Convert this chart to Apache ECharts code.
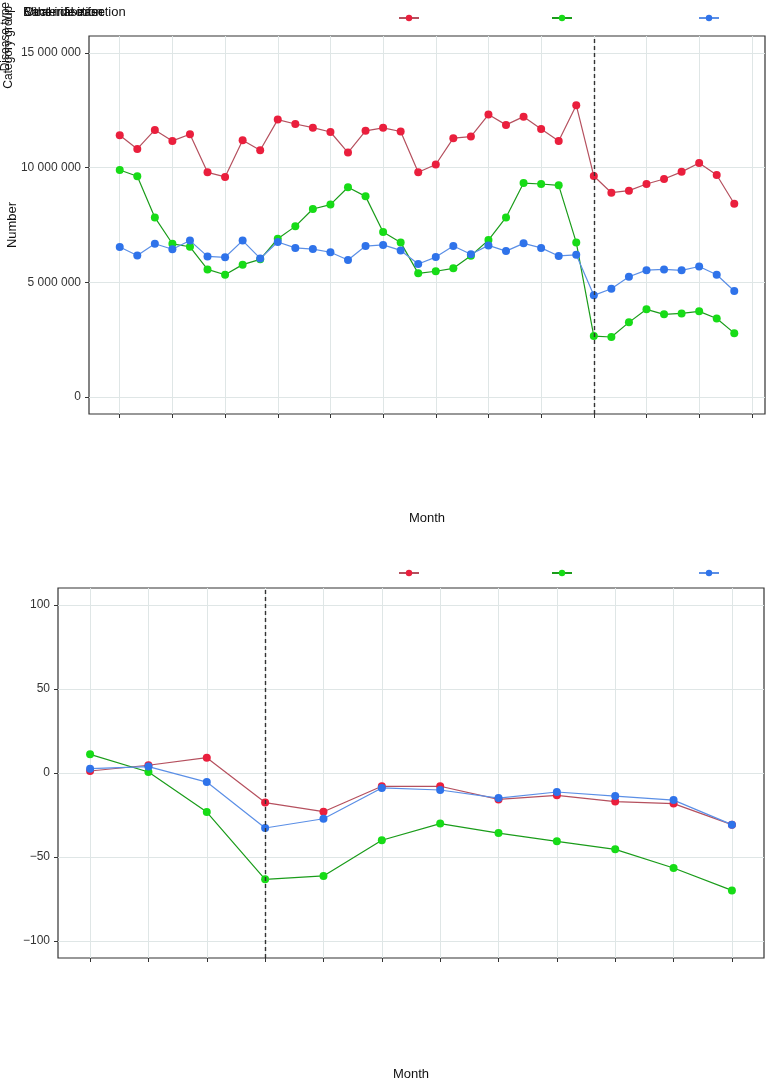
<!DOCTYPE html>
<html>
<head>
<meta charset="utf-8">
<script src="https://cdn.jsdelivr.net/npm/echarts@6/dist/echarts.min.js"></script>
<style>
html,body{margin:0;padding:0;background:#fff;}
#chart{width:770px;height:1079px;}
</style>
</head>
<body>
<div id="chart"></div>
<script>
// ---------- data ----------
const seriesNames = ['Bacterial infection', 'Viral infection', 'Other disease'];
const topMonths = [0,1,2,3,4,5,6,7,8,9,10,11,12,13,14,15,16,17,18,19,20,21,22,23,24,25,26,27,28,29,30,31,32,33,34,35];
const topRed = [11420000,10820000,11650000,11170000,11460000,9800000,9600000,11200000,10760000,12100000,11910000,11750000,11560000,10660000,11610000,11740000,11580000,9800000,10140000,11290000,11360000,12320000,11870000,12230000,11690000,11170000,12730000,9640000,8910000,9000000,9290000,9510000,9820000,10210000,9680000,8430000];
const topGreen = [9900000,9630000,7830000,6680000,6550000,5560000,5330000,5770000,6000000,6900000,7440000,8200000,8390000,9150000,8750000,7190000,6740000,5390000,5480000,5610000,6160000,6840000,7830000,9330000,9290000,9230000,6740000,2650000,2610000,3250000,3820000,3600000,3640000,3730000,3420000,2780000];
const topBlue = [6540000,6170000,6680000,6440000,6820000,6130000,6090000,6820000,6040000,6760000,6500000,6450000,6310000,5970000,6580000,6630000,6390000,5800000,6100000,6580000,6220000,6610000,6360000,6700000,6500000,6150000,6200000,4430000,4720000,5240000,5530000,5560000,5520000,5690000,5330000,4620000];
const topTicks = [0,3,6,9,12,15,18,21,24,27,30,33,36];
const topYTicks = [0,5000000,10000000,15000000];
const topBreak = 27;

const botMonths = [0,1,2,3,4,5,6,7,8,9,10,11];
const botRed = [1.2,4.6,9.1,-17.6,-23.0,-7.9,-7.9,-15.7,-13.3,-17.0,-18.2,-30.7];
const botGreen = [11.1,0.6,-23.2,-63.2,-61.2,-40.0,-30.1,-35.7,-40.6,-45.4,-56.5,-69.8];
const botBlue = [2.6,3.8,-5.4,-32.7,-27.2,-8.9,-10.1,-14.9,-11.3,-13.7,-16.1,-30.7];
const botYTicks = [-100,-50,0,50,100];
const botBreak = 3;

// ---------- styles ----------
const pointColors = ['#ea1f3d', '#17dc17', '#2f73ea'];
const lineColors = ['#b5505e', '#1a9c1a', '#5b8fe6'];
const FONT = 'Liberation Sans, Arial, sans-serif';
const gridColor = '#dfe6e6';

function pairs(xs, ys){ return xs.map((x,i)=>[x, ys[i]]); }
function fmtSpace(v){ return String(v).replace(/\B(?=(\d{3})+(?!\d))/g, ' '); }
function fmtMinus(v){ return String(v).replace('-', '\u2212'); }

function mkSeries(name, idx, data, xi, yi, breakX){
  const s = {
    name: name, type: 'line', xAxisIndex: xi, yAxisIndex: yi,
    data: data, symbol: 'circle', symbolSize: 8, showSymbol: true,
    itemStyle: {color: pointColors[idx]},
    lineStyle: {color: lineColors[idx], width: 1.2},
    animation: false, z: 3
  };
  if (idx === 0) {
    s.markLine = {
      silent: true, symbol: ['none','none'], label: {show:false},
      lineStyle: {color: '#333', type: [4,3], width: 1.4},
      data: [{xAxis: breakX}], animation: false
    };
  }
  return s;
}

function xAxisCfg(gridIndex, min, max, ticks, gap){
  return {
    type: 'value', gridIndex: gridIndex, min: min, max: max, position: 'bottom',
    name: 'Month', nameLocation: 'middle', nameGap: gap, nameMoveOverlap: false,
    nameTextStyle: {fontFamily: FONT, fontSize: 13, color: '#111'},
    axisLine: {show: false, onZero: false},
    axisTick: {show: true, length: 4, lineStyle: {color: '#333'}, customValues: ticks},
    axisLabel: {show: false, customValues: ticks},
    splitLine: {show: true, lineStyle: {color: gridColor, width: 1}}
  };
}
function yAxisCfg(gridIndex, min, max, ticks, fmt, name, gap){
  return {
    type: 'value', gridIndex: gridIndex, min: min, max: max, position: 'left',
    name: name, nameLocation: 'middle', nameGap: gap, nameRotate: 90, nameMoveOverlap: false,
    nameTextStyle: {fontFamily: FONT, fontSize: 13, color: '#111'},
    axisLine: {show: false, onZero: false},
    axisTick: {show: true, length: 4, lineStyle: {color: '#333'}, customValues: ticks},
    axisLabel: {show: true, customValues: ticks, formatter: fmt, fontFamily: FONT, fontSize: 12, color: '#333', margin: 8},
    splitLine: {show: true, lineStyle: {color: gridColor, width: 1}}
  };
}
function legendCfg(name, left, top){
  return {
    data: [name], left: left, top: top, itemWidth: 20, itemHeight: 8, itemGap: 0,
    formatter: function(){ return ''; }, selectedMode: false,
    textStyle: {fontSize: 10}
  };
}
const legendX = [393, 546, 693];
const titleStyle = {fontFamily: FONT, fontSize: 13, fontWeight: 'normal', color: '#111'};

const option = {
  backgroundColor: '#fff',
  animation: false,
  title: [
    {text: 'Bacterial infection', left: 18, top: 1, textStyle: titleStyle},
    {text: 'Viral infection', left: 20, top: 1, textStyle: titleStyle},
    {text: 'Other disease', left: 19, top: 1, textStyle: titleStyle}
  ],
  graphic: [
    {type: 'text', left: 0, top: 2, rotation: Math.PI/2, style: {text: 'Disease type', fontFamily: FONT, fontSize: 12, fill: '#111'}},
    {type: 'text', left: 3, top: 6, rotation: Math.PI/2, style: {text: 'Category group', fontFamily: FONT, fontSize: 12, fill: '#111'}}
  ],
  legend: [
    legendCfg(seriesNames[0], legendX[0], 9),
    legendCfg(seriesNames[1], legendX[1], 9),
    legendCfg(seriesNames[2], legendX[2], 9),
    legendCfg(seriesNames[0], legendX[0], 564),
    legendCfg(seriesNames[1], legendX[1], 564),
    legendCfg(seriesNames[2], legendX[2], 564)
  ],
  grid: [
    {left: 89, top: 36, width: 676, height: 378, show: true, borderColor: '#333', borderWidth: 1.2, backgroundColor: 'transparent', containLabel: false, outerBoundsMode: 'none'},
    {left: 58, top: 588, width: 706, height: 370, show: true, borderColor: '#333', borderWidth: 1.2, backgroundColor: 'transparent', containLabel: false, outerBoundsMode: 'none'}
  ],
  xAxis: [
    xAxisCfg(0, -1.75, 36.75, topTicks, 98),
    xAxisCfg(1, -0.55, 11.55, botMonths, 110)
  ],
  yAxis: [
    yAxisCfg(0, -750000, 15750000, topYTicks, fmtSpace, 'Number', 70),
    yAxisCfg(1, -110, 110, botYTicks, fmtMinus, '', 40)
  ],
  series: [
    mkSeries(seriesNames[0], 0, pairs(topMonths, topRed), 0, 0, topBreak),
    mkSeries(seriesNames[1], 1, pairs(topMonths, topGreen), 0, 0, topBreak),
    mkSeries(seriesNames[2], 2, pairs(topMonths, topBlue), 0, 0, topBreak),
    mkSeries(seriesNames[0], 0, pairs(botMonths, botRed), 1, 1, botBreak),
    mkSeries(seriesNames[1], 1, pairs(botMonths, botGreen), 1, 1, botBreak),
    mkSeries(seriesNames[2], 2, pairs(botMonths, botBlue), 1, 1, botBreak)
  ]
};

const chart = echarts.init(document.getElementById('chart'), null, {renderer: 'canvas'});
chart.setOption(option);
</script>
</body>
</html>
